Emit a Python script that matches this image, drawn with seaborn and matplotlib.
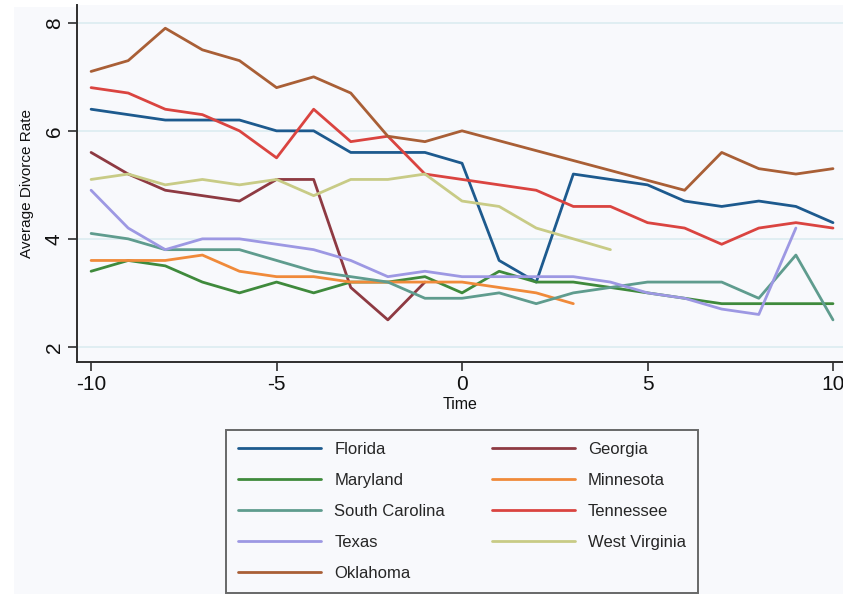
import numpy as np
import pandas as pd
import matplotlib
matplotlib.use("Agg")
import matplotlib.pyplot as plt
from matplotlib.patches import Rectangle
import seaborn as sns

# Years relative to the policy change
time = list(range(-10, 11))

# Average divorce rate per state (None = no observation)
florida = [6.4, 6.3, 6.2, 6.2, 6.2, 6.0, 6.0, 5.6, 5.6, 5.6, 5.4,
           3.6, 3.2, 5.2, 5.1, 5.0, 4.7, 4.6, 4.7, 4.6, 4.3]
georgia = [5.6, 5.2, 4.9, 4.8, 4.7, 5.1, 5.1, 3.1, 2.5, 3.2, None,
           None, None, None, None, None, None, None, None, None, None]
maryland = [3.4, 3.6, 3.5, 3.2, 3.0, 3.2, 3.0, 3.2, 3.2, 3.3, 3.0,
            3.4, 3.2, 3.2, 3.1, 3.0, 2.9, 2.8, 2.8, 2.8, 2.8]
minnesota = [3.6, 3.6, 3.6, 3.7, 3.4, 3.3, 3.3, 3.2, 3.2, 3.2, 3.2,
             3.1, 3.0, 2.8, None, None, None, None, None, None, None]
south_carolina = [4.1, 4.0, 3.8, 3.8, 3.8, 3.6, 3.4, 3.3, 3.2, 2.9, 2.9,
                  3.0, 2.8, 3.0, 3.1, 3.2, 3.2, 3.2, 2.9, 3.7, 2.5]
tennessee = [6.8, 6.7, 6.4, 6.3, 6.0, 5.5, 6.4, 5.8, 5.9, 5.2, 5.1,
             5.0, 4.9, 4.6, 4.6, 4.3, 4.2, 3.9, 4.2, 4.3, 4.2]
texas = [4.9, 4.2, 3.8, 4.0, 4.0, 3.9, 3.8, 3.6, 3.3, 3.4, 3.3,
         3.3, 3.3, 3.3, 3.2, 3.0, 2.9, 2.7, 2.6, 4.2, None]
west_virginia = [5.1, 5.2, 5.0, 5.1, 5.0, 5.1, 4.8, 5.1, 5.1, 5.2, 4.7,
                 4.6, 4.2, 4.0, 3.8, None, None, None, None, None, None]
oklahoma = [7.1, 7.3, 7.9, 7.5, 7.3, 6.8, 7.0, 6.7, 5.9, 5.8, 6.0,
            None, None, None, None, None, 4.9, 5.6, 5.3, 5.2, 5.3]

states = ["Florida", "Georgia", "Maryland", "Minnesota", "South Carolina",
          "Tennessee", "Texas", "West Virginia", "Oklahoma"]
series = [florida, georgia, maryland, minnesota, south_carolina,
          tennessee, texas, west_virginia, oklahoma]
colors = ["#1d5a8e", "#8e3a42", "#3f8a3c", "#f08a3a", "#5f9c8e",
          "#da4440", "#9d98e3", "#c8cb86", "#a95f36"]

rows = []
for name, vals in zip(states, series):
    for t, v in zip(time, vals):
        rows.append({"Time": t, "Rate": v, "State": name})
df = pd.DataFrame(rows).dropna()

sns.set_theme(style="white")
plt.rcParams["font.family"] = ["Liberation Sans", "DejaVu Sans"]
plt.rcParams["axes.unicode_minus"] = False

tint = "#f8f9fc"
fig = plt.figure(figsize=(8.43, 5.94), dpi=100, facecolor="white")
fig.patches.append(Rectangle((14 / 843, 0), 1, 1 - 7 / 594,
                             transform=fig.transFigure, facecolor=tint,
                             edgecolor="none", zorder=-10))
ax = fig.add_axes([77 / 843, 1 - 362 / 594, 1 - 77 / 843, (362 - 5) / 594])
ax.set_facecolor(tint)

sns.lineplot(data=df, x="Time", y="Rate", hue="State", hue_order=states,
             palette=dict(zip(states, colors)), linewidth=2.0,
             estimator=None, sort=True, ax=ax)

ax.set_xlim(-10.38, 10.27)
ax.set_ylim(1.72, 8.33)
ax.set_xticks([-10, -5, 0, 5, 10])
ax.set_yticks([2, 4, 6, 8])
ax.grid(axis="y", color="#dcecf1", linewidth=1.2)
ax.grid(axis="x", visible=False)
for side in ["top", "right"]:
    ax.spines[side].set_visible(False)
for side in ["left", "bottom"]:
    ax.spines[side].set_color("#2e2e2e")
    ax.spines[side].set_linewidth(1.4)
ax.tick_params(axis="both", which="major", length=6.5, width=1.2,
               color="#2e2e2e", labelsize=15, labelcolor="#111111",
               bottom=True, left=True, pad=3)
for lab in ax.get_yticklabels():
    lab.set_rotation(90)
    lab.set_va("center")
ax.set_xlabel("Time", fontsize=11.5, labelpad=2, color="#111111")
ax.set_ylabel("Average Divorce Rate", fontsize=11, labelpad=8, color="#111111")

handles, labels = ax.get_legend_handles_labels()
ax.get_legend().remove()
order = ["Florida", "Maryland", "South Carolina", "Texas", "Oklahoma",
         "Georgia", "Minnesota", "Tennessee", "West Virginia"]
lookup = dict(zip(labels, handles))
leg = fig.legend([lookup[s] for s in order], order, ncol=2,
                 loc="lower left",
                 bbox_to_anchor=(226 / 843, 1 / 594, (698 - 226) / 843, (593 - 429) / 594),
                 mode="expand", fontsize=12, handlelength=5.0,
                 handletextpad=0.78, labelspacing=0.96, borderaxespad=0,
                 columnspacing=2.7, fancybox=False, frameon=True,
                 borderpad=0.72)
leg.get_frame().set_edgecolor("#444444")
leg.get_frame().set_linewidth(1.4)
leg.get_frame().set_facecolor(tint)
for line in leg.get_lines():
    line.set_linewidth(2.0)

fig.savefig("out.png", dpi=100, facecolor=fig.get_facecolor())
